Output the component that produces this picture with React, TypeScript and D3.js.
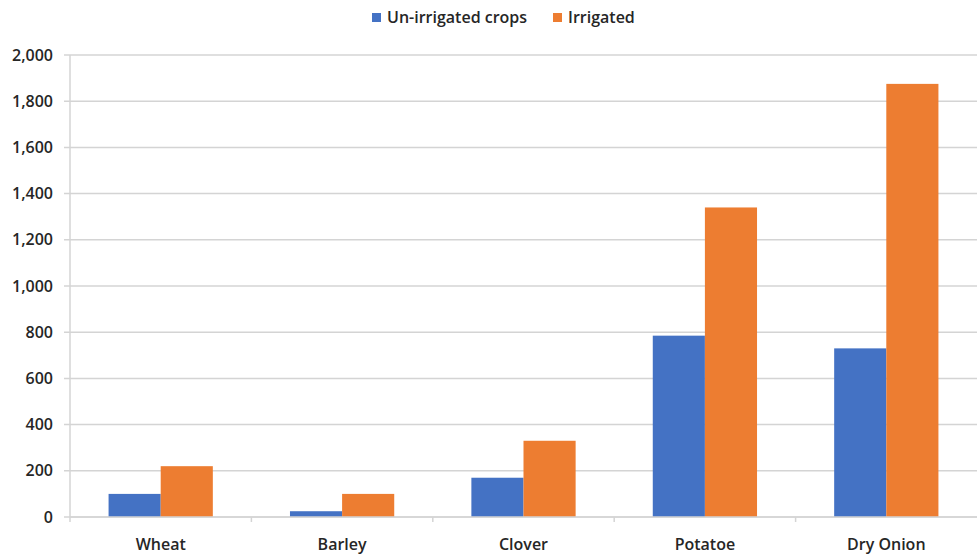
import { useEffect, useRef } from "react";
import * as d3 from "d3";

const categories = ["Wheat", "Barley", "Clover", "Potatoe", "Dry Onion"];
const seriesNames = ["Un-irrigated crops", "Irrigated"];
const unirrigated = [100, 25, 170, 785, 730];
const irrigated = [220, 100, 330, 1340, 1875];
const yTicks = [0, 200, 400, 600, 800, 1000, 1200, 1400, 1600, 1800, 2000];
const colors = ["#4472C4", "#ED7D31"];

export default function App() {
  const svgRef = useRef<SVGSVGElement>(null);

  useEffect(() => {
    if (!svgRef.current) return;
    const svg = d3.select(svgRef.current);
    const width = 977;
    const height = 556;
    const margin = { top: 55, right: 0, bottom: 39, left: 70 };
    const font = "'Open Sans', 'Liberation Sans', sans-serif";
    const textColor = "#262626";

    svg.selectAll("*").remove();
    svg.attr("width", width).attr("height", height);

    const x = d3
      .scaleBand()
      .domain(categories)
      .range([margin.left, width - margin.right])
      .paddingInner(0)
      .paddingOuter(0);

    const inner = d3
      .scaleBand()
      .domain(seriesNames)
      .range([0, x.bandwidth()])
      .paddingOuter(0.74)
      .paddingInner(0);

    const y = d3
      .scaleLinear()
      .domain([0, 2000])
      .range([height - margin.bottom, margin.top]);

    // Grid lines (with small tick stubs left of the axis)
    svg
      .append("g")
      .selectAll("line")
      .data(yTicks)
      .enter()
      .append("line")
      .attr("x1", margin.left - 6)
      .attr("x2", width - margin.right)
      .attr("y1", (d) => y(d))
      .attr("y2", (d) => y(d))
      .attr("stroke", "#d4d4d4")
      .attr("stroke-width", 1.5);

    // Y axis line
    svg
      .append("line")
      .attr("x1", margin.left)
      .attr("x2", margin.left)
      .attr("y1", y(2000))
      .attr("y2", y(0) + 5)
      .attr("stroke", "#d4d4d4")
      .attr("stroke-width", 1.5);

    // Y labels
    svg
      .append("g")
      .selectAll("text")
      .data(yTicks)
      .enter()
      .append("text")
      .attr("x", margin.left - 17)
      .attr("y", (d) => y(d))
      .attr("dy", "0.35em")
      .attr("text-anchor", "end")
      .attr("font-family", font)
      .attr("font-size", "16px")
      .attr("font-weight", 600)
      .attr("fill", textColor)
      .text((d) => d3.format(",")(d));

    // Bars
    const series = [unirrigated, irrigated];
    series.forEach((vals, si) => {
      svg
        .append("g")
        .selectAll("rect")
        .data(categories)
        .enter()
        .append("rect")
        .attr("x", (c) => x(c)! + inner(seriesNames[si])!)
        .attr("y", (c, i) => y(vals[i]))
        .attr("width", inner.bandwidth())
        .attr("height", (c, i) => y(0) - y(vals[i]))
        .attr("fill", colors[si]);
    });

    // X axis baseline and category ticks
    svg
      .append("line")
      .attr("x1", margin.left)
      .attr("x2", width - margin.right)
      .attr("y1", y(0))
      .attr("y2", y(0))
      .attr("stroke", "#d4d4d4")
      .attr("stroke-width", 1.5);

    svg
      .append("g")
      .selectAll("line")
      .data(categories.slice(1))
      .enter()
      .append("line")
      .attr("x1", (c) => x(c)!)
      .attr("x2", (c) => x(c)!)
      .attr("y1", y(0))
      .attr("y2", y(0) + 5)
      .attr("stroke", "#d4d4d4")
      .attr("stroke-width", 1.5);

    // Category labels
    svg
      .append("g")
      .selectAll("text")
      .data(categories)
      .enter()
      .append("text")
      .attr("x", (c) => x(c)! + x.bandwidth() / 2)
      .attr("y", y(0) + 33)
      .attr("text-anchor", "middle")
      .attr("font-family", font)
      .attr("font-size", "16px")
      .attr("font-weight", 600)
      .attr("fill", textColor)
      .text((c) => c);

    // Legend
    const legend = svg.append("g").attr("transform", "translate(372,17)");
    const legendX = [0, 181];
    seriesNames.forEach((name, i) => {
      legend
        .append("rect")
        .attr("x", legendX[i])
        .attr("y", -4)
        .attr("width", 9)
        .attr("height", 9)
        .attr("fill", colors[i]);
      legend
        .append("text")
        .attr("x", legendX[i] + 15)
        .attr("y", 0)
        .attr("dy", "0.35em")
        .attr("font-family", font)
        .attr("font-size", "16px")
        .attr("font-weight", 600)
        .attr("fill", textColor)
        .text(name);
    });
  }, []);

  return (
    <div style={{ position: "fixed", top: 0, left: 0, background: "#fff" }}>
      <svg ref={svgRef}></svg>
    </div>
  );
}
